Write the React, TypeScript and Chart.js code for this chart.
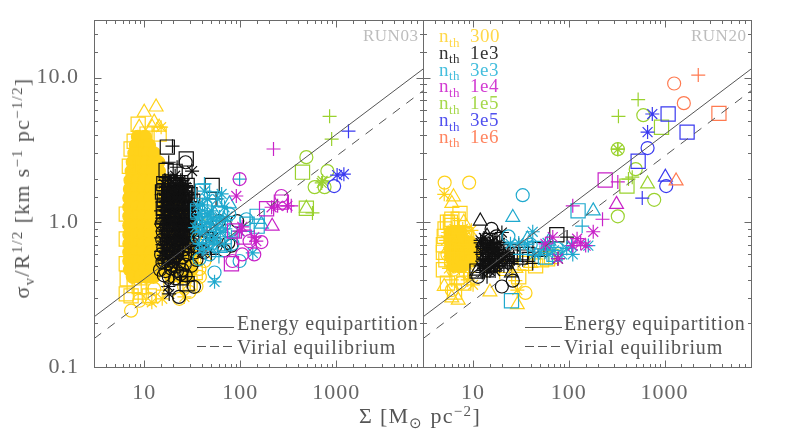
import React, { useEffect, useRef } from "react";
import { Chart, registerables } from "chart.js";

Chart.register(...registerables);

type Pair = [number, number];
type Shape = "circle" | "rect" | "triangle" | "cross" | "star";

const colors = {
  y300: "#FFD21A",
  k1e3: "#111111",
  c3e3: "#1FA9CE",
  m1e4: "#C822C8",
  g1e5: "#9AD22E",
  b3e5: "#3A3AF0",
  o1e6: "#FF7A50",
};

const legendNames = ["300", "1e3", "3e3", "1e4", "1e5", "3e5", "1e6"];
const legendColors = ["#FFD84A", "#333333", "#45BEDD", "#D23CD2", "#A6D84C", "#5050EE", "#FF8560"];

const energyLine: Pair[] = [[3, 0.222], [8000, 11.45]];
const virialLine: Pair[] = [[3, 0.157], [8000, 8.1]];

const xTickNames = [10, 100, 1000];
const yTickNames: Pair[] = [[0.1, 0.1], [1, 1], [10, 10]];

/* ---------- RUN03 ---------- */
const a300Core: Pair[] = [
  [8.6,3.9],[10.2,3.9],
  [8.2,3.4],[9.6,3.4],[11.2,3.4],
  [7.9,3.0],[9.2,3.0],[10.8,3.0],[12.6,3.0],
  [7.6,2.6],[8.9,2.6],[10.5,2.6],[12.4,2.6],[14,2.6],
  [7.4,2.25],[8.6,2.25],[10.2,2.25],[12,2.25],[14.2,2.25],
  [7.2,1.95],[8.4,1.95],[10,1.95],[11.8,1.95],[14,1.95],[16.2,1.95],
  [7.1,1.7],[8.3,1.7],[9.9,1.7],[11.7,1.7],[13.9,1.7],[16.3,1.7],
  [7,1.47],[8.2,1.47],[9.8,1.47],[11.6,1.47],[13.8,1.47],[16.2,1.47],[19,1.47],
  [7,1.27],[8.2,1.27],[9.8,1.27],[11.6,1.27],[13.8,1.27],[16.2,1.27],[19,1.27],[22,1.27],
  [7,1.1],[8.2,1.1],[9.8,1.1],[11.6,1.1],[13.8,1.1],[16.4,1.1],[19,1.1],[22,1.1],[26,1.1],
  [7,0.95],[8.2,0.95],[9.8,0.95],[11.6,0.95],[13.8,0.95],[16.4,0.95],[19,0.95],[22,0.95],[26,0.95],
  [7,0.82],[8.2,0.82],[9.8,0.82],[11.6,0.82],[13.8,0.82],[16.4,0.82],[19,0.82],[22,0.82],[26,0.82],[30,0.82],
  [7,0.71],[8.2,0.71],[9.8,0.71],[11.6,0.71],[13.8,0.71],[16.4,0.71],[19,0.71],[22,0.71],[26,0.71],[30,0.71],
  [7,0.62],[8.2,0.62],[9.8,0.62],[11.6,0.62],[13.8,0.62],[16.4,0.62],[19,0.62],[22,0.62],[26,0.62],[30,0.62],
  [7,0.54],[8.2,0.54],[9.8,0.54],[11.6,0.54],[13.8,0.54],[16.4,0.54],[19,0.54],[22,0.54],[26,0.54],[31,0.55],
  [7.1,0.47],[8.4,0.47],[10,0.47],[11.8,0.47],[14,0.47],[16.5,0.47],[19.5,0.47],[23,0.47],[27,0.47],[31,0.47],
  [7.6,0.42],[9,0.42],[10.6,0.42],[12.5,0.42],[19,0.42],[24,0.42],[28,0.42],
];
const a300Triangle: Pair[] = [[13.3,6.26],[10,5.76],[12.7,4.92],[8.87,4.54],[12.1,4.54],[14.3,4.54]];
const a300Square: Pair[] = [[8.65,4.76],[14.3,4.07],[10.7,4.07],[7.86,3.63],[7,2.44],[7.3,3.21],[6.5,1.14],[6.5,0.767],[6.5,0.517],[6.65,0.407],[6.5,0.32],[7.3,0.31],[9.3,0.33],[11.3,0.31],[8.87,0.36],[7.86,0.365],[34,0.45],[30,0.38]];
const a300Circle: Pair[] = [[7.3,0.245],[8.87,0.287],[11.3,0.296],[12.7,0.347],[29.5,0.33],[23.2,0.296],[37.6,0.476],[33.3,0.54],[42.4,0.54],[34,0.8],[37,1.0],[38,0.42],[35,0.36],[26,0.36]];
const a300Star: Pair[] = [[15,4.54],[12,0.28],[26.2,0.305],[15.4,0.296]];
const a300Plus: Pair[] = [[10.5,0.32],[16,0.34]];

const a1e3Circle: Pair[] = [
  [15.2,0.98],[17,0.95],[19.5,0.99],[22,0.96],[25,0.93],[28,0.97],[32,0.92],
  [15.6,0.86],[17.6,0.84],[20,0.88],[22.6,0.85],[25.5,0.83],[29,0.87],[33,0.82],
  [15.4,0.76],[17.2,0.74],[19.6,0.78],[22.2,0.75],[25,0.73],[28.4,0.77],[31,0.72],
  [15.8,0.67],[18,0.66],[20.4,0.69],[23,0.66],[26,0.65],[29.5,0.68],
  [15,0.6],[17,0.58],[19.2,0.61],[22,0.59],[25,0.57],[28,0.6],
  [15.5,0.53],[17.8,0.52],[20.2,0.54],[23,0.52],[26.5,0.51],
  [14.6,0.47],[16.6,0.46],[19,0.48],[22,0.46],[25,0.47],
  [16,0.43],[18,0.42],[21,0.41],[24,0.44],[27,0.43],[31,0.5],[34,0.62],
  [38,0.75],[42,0.62],[35,0.55],[48,0.9],[60,1.02],[75,0.72],[68,0.64],[55,0.68],
  [27,2.6],[93,1.02],[81,0.69],[23,0.305],[33,0.358],[16.2,0.54],
];
const a1e3Square: Pair[] = [
  [17.4,3.31],[27.4,2.74],[16.9,2.28],[21,2.25],[51,1.8],
  [16,1.85],[18.5,1.9],[21,1.82],[24,1.88],[28,1.8],
  [15.5,1.62],[18,1.66],[20.5,1.6],[23.5,1.64],[27,1.6],[30,1.55],
  [16.2,1.42],[18.8,1.45],[21.5,1.4],[24.5,1.44],[28,1.38],[32,1.4],
  [15.8,1.25],[18.2,1.27],[21,1.22],[24,1.26],[27,1.2],[31,1.24],
  [16,1.1],[19,1.12],[22,1.08],[25,1.1],[29,1.06],
  [24,0.413],[28,0.376],
];
const a1e3Star: Pair[] = [
  [31.5,2.26],[17.8,0.36],[18.2,0.32],[18,2],[21,2.1],[24,1.95],[27,1.75],[17,1.55],[20,1.5],[23,1.52],[26,1.5],
  [30,1.3],[16.5,1.3],[19,1.18],[22,1.15],[26,1],[30,1.02],[18,1.03],[21,0.92],[24,0.82],[28,0.72],[33,0.7],[40,0.62],[45,0.85],[52,0.78],
];
const a1e3Plus: Pair[] = [
  [19.7,3.36],[56,1.45],[18,2.6],[22,2.4],[19,1.75],[23,1.7],[26,1.6],[17,1.4],[21,1.3],[25,1.25],[29,1.15],
  [20,1],[24,0.9],[27,0.8],[31,0.62],[23.5,0.42],[28,0.39],[37,0.8],[44,0.7],[50,0.6],
];
const a1e3Triangle: Pair[] = [[19,1.25],[22,1.35],[25,1.05],[30,0.9],[35,1],[18,0.7]];
const a1e3PackedPlus: Pair[] = [
  [16.5,1.95],[19,1.95],[22,1.95],[25,1.95],
  [15.6,1.75],[17.5,1.75],[20,1.75],[22.5,1.75],[25.5,1.75],[28.5,1.75],
  [15.2,1.55],[17,1.55],[19,1.55],[21.5,1.55],[24,1.55],[27,1.55],[31,1.55],
  [15.5,1.38],[17.5,1.38],[19.8,1.38],[22.4,1.38],[25.5,1.38],[29,1.38],
  [15,1.2],[16.8,1.2],[19,1.2],[21.5,1.2],[24.5,1.2],[28,1.2],[32,1.2],
  [15.4,1.07],[17.6,1.07],[20,1.07],[22.8,1.07],[26,1.07],[30,1.07],
  [15,0.97],[17,0.97],[19.4,0.97],[22,0.97],[25,0.97],[29,0.97],[33,0.97],
  [15.5,0.87],[17.5,0.87],[20,0.87],[22.6,0.87],[25.6,0.87],[29.4,0.87],
  [15,0.78],[17,0.78],[19.4,0.78],[22,0.78],[25,0.78],[28.6,0.78],
  [15.5,0.7],[17.5,0.7],[20,0.7],[22.6,0.7],[25.6,0.7],[29,0.7],
  [15,0.63],[17,0.63],[19.4,0.63],[22,0.63],[25,0.63],
  [15.5,0.56],[17.5,0.56],[20,0.56],[22.6,0.56],
];
const a1e3PackedStar: Pair[] = [
  [16,1.85],[18.5,1.85],[21,1.85],[23.5,1.85],[26.5,1.85],
  [16.2,1.65],[18.4,1.65],[21,1.65],[24,1.65],[27,1.65],
  [16,1.47],[18.2,1.47],[20.6,1.47],[23.2,1.47],[26.2,1.47],[29.6,1.47],
  [16.2,1.29],[18.4,1.29],[20.8,1.29],[23.6,1.29],[26.8,1.29],[30,1.29],
  [16,1.13],[18.4,1.13],[20.8,1.13],[23.4,1.13],[26.6,1.13],[30.5,1.13],
  [16.2,1.02],[18.4,1.02],[20.8,1.02],[23.6,1.02],[27,1.02],
  [16,0.92],[18.4,0.92],[20.8,0.92],[23.6,0.92],[27,0.92],[31,0.92],
  [16.2,0.82],[18.4,0.82],[20.8,0.82],[23.6,0.82],[27,0.82],
  [16,0.74],[18.4,0.74],[20.8,0.74],[23.6,0.74],[27,0.74],
  [16.2,0.66],[18.4,0.66],[20.8,0.66],[23.6,0.66],
  [16,0.59],[18.4,0.59],[20.8,0.59],[23.6,0.59],
  [16.4,0.52],[19,0.52],[21.6,0.52],
];

const a3e3Star: Pair[] = [
  [42.4,1.64],[40.5,1.32],[45.5,1.14],[50,0.97],[42.4,0.87],[54,0.767],[37.6,0.71],[47.8,0.654],[61,1.09],[68.6,1.27],
  [58,1.45],[35.8,1.05],[39.5,0.93],[50,1.2],[70,0.9],[81,0.79],[54,0.388],[135,0.614],[97,0.87],[45.5,1.45],[64,1.57],
  [36,1.3],[38,1.15],[44,1.0],[56,0.92],[62,0.85],[38,0.85],[46,0.76],[58,0.72],[40,0.65],[34,0.92],[52,1.05],[66,1.02],[74,1.1],
];
const a3e3Plus: Pair[] = [[42.4,1.84],[98.5,1.99],[48,0.83],[68.6,0.71],[40,1.1],[52,0.7],[60,0.58]];
const a3e3Square: Pair[] = [[40.5,1.64],[118,0.97],[150,1.1],[150,0.94],[48,0.97],[54,1.45],[68,0.71],[36,1.2],[62,1.15]];
const a3e3Circle: Pair[] = [[98.5,0.54],[54,0.45],[83,0.71],[48,0.6],[61,0.77],[37.6,0.558],[77,1.14],[116,1.05],[42,1.1],[36,0.78],[56,0.98],[68,0.96],[44,1.3]];
const a3e3Triangle: Pair[] = [[166,0.97],[54,1.14],[42,0.77],[77,1.34],[38,1.0],[62,0.66]];

const a1e4Plus: Pair[] = [[222,3.21],[340,1.3]];
const a1e4Star: Pair[] = [[91,1.52],[245,1.3],[310,1.3],[212,1.27],[98.5,0.87],[105,0.93],[147,0.74],[140,0.79]];
const a1e4Circle: Pair[] = [[98.5,1.99],[268,1.52],[83,0.54],[105,0.6],[140,0.6],[166,0.73],[125,0.74]];
const a1e4Square: Pair[] = [[188,1.24],[268,1.38],[81,0.517],[87,0.87],[110,0.79]];
const a1e4Triangle: Pair[] = [[215,0.94]];

const a1e5Circle: Pair[] = [[488,2.82],[595,1.75],[755,1.75],[808,2.26]];
const a1e5Square: Pair[] = [[445,2.22],[488,1.25]];
const a1e5Triangle: Pair[] = [[488,1.25]];
const a1e5Plus: Pair[] = [[852,5.4],[895,3.76],[565,1.16]];
const a1e5Star: Pair[] = [[720,1.93],[705,1.87]];

const a3e5Plus: Pair[] = [[1340,4.26]];
const a3e5Star: Pair[] = [[1020,2.12],[1200,2.15]];
const a3e5Circle: Pair[] = [[950,1.78]];

/* ---------- RUN20 ---------- */
const b300Core: Pair[] = [
  [5.8,0.85],[6.5,0.85],[7.4,0.85],
  [5.8,0.74],[6.5,0.74],[7.4,0.74],[8.3,0.74],[9.4,0.72],
  [5.8,0.65],[6.5,0.65],[7.4,0.65],[8.3,0.65],[9.4,0.65],[10.4,0.62],
  [6,0.57],[6.8,0.57],[7.6,0.57],[8.6,0.57],[9.6,0.55],
  [6.2,0.5],[7,0.5],[7.8,0.5],
];
const b300Circle: Pair[] = [[5.05,1.88],[9.1,1.88],[35.3,0.325],[5.4,0.6],[6.2,0.47],[8,0.8],[9.5,0.7],[6,0.34],[7.4,0.38]];
const b300Star: Pair[] = [[5,1.56],[5.8,0.75],[6.6,0.68],[7.6,0.62],[8.4,0.52],[6.4,0.9],[7.2,0.48],[8.8,0.4],[10,0.37],[9.6,0.88],[29,0.34],[5.5,0.62],[5.2,0.75],[5.5,0.85],[7.8,0.9],[9,0.5],[5.6,0.48],[10,0.55]];
const b300Triangle: Pair[] = [[6.25,1.5],[6,1.35],[29,0.27],[5,0.36],[6,0.3],[7,0.29],[15,0.33],[40,0.52],[8,1],[28,0.48]];
const b300Square: Pair[] = [[7.3,1.15],[5.4,1.0],[5.8,1.0],[5.1,0.9],[6,0.95],[4.9,0.47],[4.9,0.62],[5.4,0.38],[6.4,0.33],[8.4,0.82],[8.8,0.55],[60,0.56],[66,0.58],[30,0.42],[7,0.75],[6,0.55],[6,1.05],[7,1.05],[8.6,0.78],[9.6,0.6],[5.2,0.55],[6.8,0.42],[8,0.38],[4.9,0.7],[5,0.8],[22,0.48],[35,0.52],[45,0.5],[52,0.55]];
const b300Plus: Pair[] = [[27.7,0.395],[5.6,0.8],[7,0.95],[8,0.45],[6.4,0.62],[7.8,0.7],[6,0.4],[14,0.46],[9,0.45],[10.5,0.65],[19,0.45]];

const b1e3Triangle: Pair[] = [[11.9,1.02],[11,0.46],[25.2,0.447],[17,0.71],[14,0.8]];
const b1e3Square: Pair[] = [[75,0.82],[11,0.46],[31.3,0.575],[22,0.54],[50,0.65],[15,0.75],[13,0.62],[17,0.58],[20,0.65],[14,0.5],[37,0.6],[26,0.6]];
const b1e3Circle: Pair[] = [[15.6,0.9],[11.3,0.42],[20,0.36],[26,0.395],[13,0.7],[17.5,0.8]];
const b1e3Star: Pair[] = [
  [20,0.85],[12.5,0.54],[77,0.56],[13,0.66],[14.5,0.58],[16,0.67],[12,0.72],[17,0.52],[19,0.6],[14,0.48],[23,0.62],[15,0.71],[12.5,0.45],
  [12,0.75],[13,0.78],[14,0.7],[15,0.66],[16,0.62],[17,0.6],[18,0.65],[12.5,0.6],[13.5,0.55],[14.5,0.52],[15.5,0.54],[16.5,0.5],[18,0.5],[20,0.55],[21,0.5],[22,0.58],[24,0.55],[13,0.48],[15,0.46],[17,0.46],[12,0.5],[14,0.64],[16,0.74],[19,0.72],
];
const b1e3Plus: Pair[] = [
  [55,0.654],[96,0.79],[12,0.62],[13.5,0.72],[15,0.6],[16.5,0.72],[18,0.56],[21,0.7],[30,0.7],[25,0.52],[38,0.62],[42,0.52],[14,0.42],
  [12.5,0.68],[14,0.6],[15.5,0.68],[17,0.64],[18.5,0.62],[13,0.52],[15,0.5],[16.5,0.56],[19,0.5],[21,0.6],[23,0.52],[27,0.56],[29,0.6],[33,0.55],
];

const b3e3Circle: Pair[] = [[33,1.54],[23.4,0.8],[40,0.7],[75,0.66]];
const b3e3Triangle: Pair[] = [[26,1.08],[37,0.767],[180,1.2],[62,0.74]];
const b3e3Square: Pair[] = [[25.2,0.287],[125,1.2],[57,0.575],[44,0.66],[70,0.6]];
const b3e3Star: Pair[] = [[42,0.86],[24.6,0.71],[110,0.6],[160,0.69],[107,0.69],[44,0.6],[30,0.72],[37,0.7],[50,0.62],[62,0.6],[70,0.64],[85,0.6],[95,0.66],[60,0.72]];
const b3e3Plus: Pair[] = [[138,0.94],[31,0.6]];

const b1e4Square: Pair[] = [[240,1.96]];
const b1e4Plus: Pair[] = [[325,1.9],[225,1.05],[110,1.3]];
const b1e4Triangle: Pair[] = [[315,1.33]];
const b1e4Star: Pair[] = [[180,0.86],[68,0.79],[122,0.77],[150,0.69],[110,0.69],[77,0.56],[57,0.71],[133,0.72]];

const b1e5Star: Pair[] = [[325,3.2]];
const b1e5Plus: Pair[] = [[325,3.2],[330,5.4],[530,7.05],[460,2.05],[420,1.99]];
const b1e5Circle: Pair[] = [[325,3.2],[600,5.5],[500,2.33],[780,1.43],[325,1.1]];
const b1e5Square: Pair[] = [[930,4.54],[405,1.78]];
const b1e5Triangle: Pair[] = [[665,1.84]];

const b3e5Square: Pair[] = [[1090,5.6],[1720,4.2],[530,2.64]];
const b3e5Star: Pair[] = [[745,5.6],[665,4.2]];
const b3e5Circle: Pair[] = [[665,3.26],[1040,1.78]];
const b3e5Triangle: Pair[] = [[1020,2.05]];
const b3e5Plus: Pair[] = [[585,1.47]];

const b1e6Plus: Pair[] = [[2250,10.4]];
const b1e6Circle: Pair[] = [[1260,9.1],[1590,6.66]];
const b1e6Square: Pair[] = [[3700,5.66]];
const b1e6Triangle: Pair[] = [[1320,1.93]];

type Group = { points: Pair[]; color: string; shape: Shape; filled?: boolean };

const run03Groups: Group[] = [
  { points: a300Core, color: colors.y300, shape: "circle", filled: true },
  { points: a300Triangle, color: colors.y300, shape: "triangle" },
  { points: a300Square, color: colors.y300, shape: "rect" },
  { points: a300Circle, color: colors.y300, shape: "circle" },
  { points: a300Star, color: colors.y300, shape: "star" },
  { points: a300Plus, color: colors.y300, shape: "cross" },
  { points: a1e3Circle, color: colors.k1e3, shape: "circle" },
  { points: a1e3Square, color: colors.k1e3, shape: "rect" },
  { points: a1e3Star, color: colors.k1e3, shape: "star" },
  { points: a1e3Plus, color: colors.k1e3, shape: "cross" },
  { points: a1e3Triangle, color: colors.k1e3, shape: "triangle" },
  { points: a1e3PackedPlus, color: colors.k1e3, shape: "cross" },
  { points: a1e3PackedStar, color: colors.k1e3, shape: "star" },
  { points: a3e3Circle, color: colors.c3e3, shape: "circle" },
  { points: a3e3Square, color: colors.c3e3, shape: "rect" },
  { points: a3e3Triangle, color: colors.c3e3, shape: "triangle" },
  { points: a3e3Plus, color: colors.c3e3, shape: "cross" },
  { points: a3e3Star, color: colors.c3e3, shape: "star" },
  { points: a1e4Circle, color: colors.m1e4, shape: "circle" },
  { points: a1e4Square, color: colors.m1e4, shape: "rect" },
  { points: a1e4Triangle, color: colors.m1e4, shape: "triangle" },
  { points: a1e4Plus, color: colors.m1e4, shape: "cross" },
  { points: a1e4Star, color: colors.m1e4, shape: "star" },
  { points: a1e5Circle, color: colors.g1e5, shape: "circle" },
  { points: a1e5Square, color: colors.g1e5, shape: "rect" },
  { points: a1e5Triangle, color: colors.g1e5, shape: "triangle" },
  { points: a1e5Plus, color: colors.g1e5, shape: "cross" },
  { points: a1e5Star, color: colors.g1e5, shape: "star" },
  { points: a3e5Circle, color: colors.b3e5, shape: "circle" },
  { points: a3e5Plus, color: colors.b3e5, shape: "cross" },
  { points: a3e5Star, color: colors.b3e5, shape: "star" },
];

const run20Groups: Group[] = [
  { points: b300Core, color: colors.y300, shape: "circle", filled: true },
  { points: b300Circle, color: colors.y300, shape: "circle" },
  { points: b300Star, color: colors.y300, shape: "star" },
  { points: b300Triangle, color: colors.y300, shape: "triangle" },
  { points: b300Square, color: colors.y300, shape: "rect" },
  { points: b300Plus, color: colors.y300, shape: "cross" },
  { points: b1e3Triangle, color: colors.k1e3, shape: "triangle" },
  { points: b1e3Square, color: colors.k1e3, shape: "rect" },
  { points: b1e3Circle, color: colors.k1e3, shape: "circle" },
  { points: b1e3Star, color: colors.k1e3, shape: "star" },
  { points: b1e3Plus, color: colors.k1e3, shape: "cross" },
  { points: b3e3Circle, color: colors.c3e3, shape: "circle" },
  { points: b3e3Triangle, color: colors.c3e3, shape: "triangle" },
  { points: b3e3Square, color: colors.c3e3, shape: "rect" },
  { points: b3e3Star, color: colors.c3e3, shape: "star" },
  { points: b3e3Plus, color: colors.c3e3, shape: "cross" },
  { points: b1e4Square, color: colors.m1e4, shape: "rect" },
  { points: b1e4Plus, color: colors.m1e4, shape: "cross" },
  { points: b1e4Triangle, color: colors.m1e4, shape: "triangle" },
  { points: b1e4Star, color: colors.m1e4, shape: "star" },
  { points: b1e5Star, color: colors.g1e5, shape: "star" },
  { points: b1e5Plus, color: colors.g1e5, shape: "cross" },
  { points: b1e5Circle, color: colors.g1e5, shape: "circle" },
  { points: b1e5Square, color: colors.g1e5, shape: "rect" },
  { points: b1e5Triangle, color: colors.g1e5, shape: "triangle" },
  { points: b3e5Square, color: colors.b3e5, shape: "rect" },
  { points: b3e5Star, color: colors.b3e5, shape: "star" },
  { points: b3e5Circle, color: colors.b3e5, shape: "circle" },
  { points: b3e5Triangle, color: colors.b3e5, shape: "triangle" },
  { points: b3e5Plus, color: colors.b3e5, shape: "cross" },
  { points: b1e6Plus, color: colors.o1e6, shape: "cross" },
  { points: b1e6Circle, color: colors.o1e6, shape: "circle" },
  { points: b1e6Square, color: colors.o1e6, shape: "rect" },
  { points: b1e6Triangle, color: colors.o1e6, shape: "triangle" },
];

const shapeRadius: Record<Shape, number> = { circle: 6.5, rect: 10, triangle: 8, cross: 7, star: 7 };
const SERIF = "'Liberation Serif', serif";
const AXIS = "#6a6a6a";

const toObjects = (pts: Pair[]) => pts.map(([x, y]) => ({ x, y }));

const framePlugin = {
  id: "frame",
  beforeDraw(chart: any) {
    chart.ctx.letterSpacing = "1px";
  },
  afterDatasetsDraw(chart: any) {
    const { ctx, chartArea: a, scales } = chart;
    const L = Math.round(a.left) + 0.5, R = Math.round(a.right) + 0.5;
    const T = Math.round(a.top) + 0.5, B = Math.round(a.bottom) + 0.5;
    ctx.save();
    ctx.strokeStyle = AXIS;
    ctx.lineWidth = 1;
    ctx.strokeRect(L, T, R - L, B - T);
    ctx.beginPath();
    for (const t of scales.x.ticks) {
      const p = Math.round(scales.x.getPixelForValue(t.value)) + 0.5;
      if (p <= L + 1 || p >= R - 1) continue;
      const major = Math.abs(Math.log10(t.value) % 1) < 1e-6;
      const len = major ? 7 : 3.5;
      ctx.moveTo(p, B); ctx.lineTo(p, B - len);
      ctx.moveTo(p, T); ctx.lineTo(p, T + len);
    }
    for (const t of scales.y.ticks) {
      const p = Math.round(scales.y.getPixelForValue(t.value)) + 0.5;
      if (p <= T + 1 || p >= B - 1) continue;
      const lg = Math.abs(Math.log10(t.value));
      const major = Math.abs(lg - Math.round(lg)) < 1e-6;
      const len = major ? 7 : 3.5;
      ctx.moveTo(L, p); ctx.lineTo(L + len, p);
      ctx.moveTo(R, p); ctx.lineTo(R - len, p);
    }
    ctx.stroke();
    // line-style keys beside the text labels
    ctx.strokeStyle = "#555";
    ctx.beginPath();
    ctx.moveTo(a.right - 226, a.bottom - 39.5); ctx.lineTo(a.right - 189, a.bottom - 39.5);
    ctx.stroke();
    ctx.setLineDash([9, 4]);
    ctx.beginPath();
    ctx.moveTo(a.right - 226, a.bottom - 20.5); ctx.lineTo(a.right - 189, a.bottom - 20.5);
    ctx.stroke();
    ctx.restore();
  },
};

function makeChart(canvas: HTMLCanvasElement, groups: Group[], showY: boolean, padding: any, yWidth: number) {
  const lineSets = [
    { points: energyLine, dash: [] as number[] },
    { points: virialLine, dash: [9, 8] },
  ].map((l) => ({
    type: "line" as const,
    data: toObjects(l.points),
    borderColor: "#555555",
    borderWidth: 1,
    borderDash: l.dash,
    pointRadius: 0,
    showLine: true,
    fill: false,
    order: 0,
  }));
  const markSets = groups.map((g, i) => ({
    type: "scatter" as const,
    data: toObjects(g.points),
    pointStyle: g.shape,
    pointRadius: shapeRadius[g.shape],
    pointBorderColor: g.color,
    pointBackgroundColor: g.filled ? g.color : "rgba(0,0,0,0)",
    pointBorderWidth: 1.2,
    order: groups.length - i,
  }));
  return new Chart(canvas, {
    type: "scatter",
    data: { datasets: [...lineSets, ...markSets] as any },
    options: {
      responsive: false,
      animation: false,
      layout: { padding, autoPadding: false },
      plugins: { legend: { display: false }, tooltip: { enabled: false } },
      scales: {
        x: {
          type: "logarithmic",
          min: 3,
          max: 8000,
          grid: { display: false },
          border: { display: false },
          afterFit: (s: any) => { s.height = 67; s.paddingLeft = 0; s.paddingRight = 0; },
          ticks: {
            autoSkip: false,
            maxRotation: 0,
            minRotation: 0,
            padding: 5,
            color: "#666",
            font: { family: SERIF, size: 22 },
            callback: (v: any) => (xTickNames.includes(Number(v)) ? String(v) : ""),
          },
        },
        y: {
          type: "logarithmic",
          min: 0.1,
          max: 25,
          grid: { display: false },
          border: { display: false },
          afterFit: (s: any) => { s.width = yWidth; s.paddingTop = 0; s.paddingBottom = 0; },
          ticks: {
            display: showY,
            autoSkip: false,
            padding: 7,
            color: "#666",
            font: { family: SERIF, size: 22 },
            callback: (v: any) => {
              const hit = yTickNames.find(([t]) => Math.abs(t - Number(v)) < 1e-6);
              return hit ? hit[1].toFixed(1) : "";
            },
          },
        },
      },
    } as any,
    plugins: [framePlugin],
  });
}

const abs = (left: number, top: number, extra: React.CSSProperties = {}): React.CSSProperties => ({
  position: "absolute",
  left,
  top,
  fontFamily: SERIF,
  whiteSpace: "nowrap",
  lineHeight: 1,
  ...extra,
});

const sub: React.CSSProperties = { fontSize: "0.68em", position: "relative", top: "0.35em" };
const sup: React.CSSProperties = { fontSize: "0.68em", position: "relative", top: "-0.45em" };

export default function App() {
  const left = useRef<HTMLCanvasElement>(null);
  const right = useRef<HTMLCanvasElement>(null);
  useEffect(() => {
    const a = makeChart(left.current!, run03Groups, true, { top: 20, right: 1, left: 0, bottom: 0 }, 94);
    const b = makeChart(right.current!, run20Groups, false, { top: 20, right: 38, left: 1, bottom: 0 }, 0);
    return () => { a.destroy(); b.destroy(); };
  }, []);

  const lineKeys = (x: number) => (
    <>
      <div style={abs(x, 313, { fontSize: 20, letterSpacing: 0.85, color: "#555" })}>Energy equipartition</div>
      <div style={abs(x, 337, { fontSize: 20, letterSpacing: 0.85, color: "#555" })}>Virial equilibrium</div>
    </>
  );

  return (
    <div style={{ position: "absolute", left: 0, top: 0, width: 789, height: 434, overflow: "hidden", background: "#fff" }}>
      <canvas ref={left} width={424} height={434} style={{ position: "absolute", left: 0, top: 0 }} />
      <canvas ref={right} width={367} height={434} style={{ position: "absolute", left: 422, top: 0 }} />
      <div style={abs(363, 27, { fontSize: 17, letterSpacing: 0.5, color: "#bdbdbd" })}>RUN03</div>
      <div style={abs(691, 27, { fontSize: 17, letterSpacing: 0.5, color: "#bdbdbd" })}>RUN20</div>
      {lineKeys(237)}
      {lineKeys(564)}
      {legendNames.map((name, i) => (
        <div key={name} style={abs(439, 26 + i * 16.8, { fontSize: 19, color: legendColors[i], letterSpacing: 0.5 })}>
          n<span style={{ ...sub, fontSize: 13 }}>th</span>
          <span style={{ position: "absolute", left: 31 }}>{name}</span>
        </div>
      ))}
      <div style={abs(420, 416, { fontSize: 22, letterSpacing: 1.3, color: "#555", transform: "translate(-50%,-50%)" })}>
        Σ [M<span style={sub}>⊙</span> pc<span style={sup}>−2</span>]
      </div>
      <div style={abs(22, 188, { fontSize: 22, letterSpacing: 1.3, color: "#555", transform: "translate(-50%,-50%) rotate(-90deg)" })}>
        σ<span style={sub}>v</span>/R<span style={sup}>1/2</span> [km s<span style={sup}>−1</span> pc<span style={sup}>−1/2</span>]
      </div>
    </div>
  );
}
